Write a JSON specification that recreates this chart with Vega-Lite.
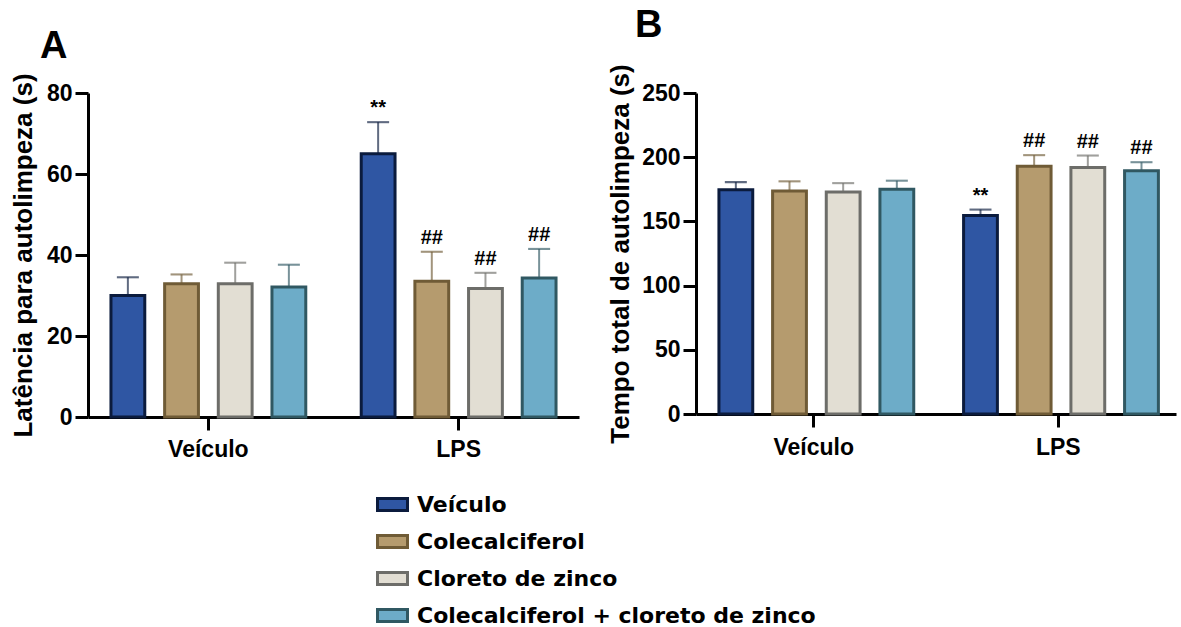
{
  "$schema": "https://vega.github.io/schema/vega-lite/v6.json",
  "background": "white",
  "padding": {"left": 10, "top": 6, "right": 5, "bottom": 5},
  "config": {
    "view": {"stroke": null},
    "axis": {
      "labelFont": "Liberation Sans", "labelFontWeight": "bold", "labelFontSize": 23, "labelColor": "black",
      "titleFont": "Liberation Sans", "titleFontWeight": "bold", "titleFontSize": 26, "titleColor": "black",
      "domainColor": "black", "domainWidth": 3, "tickColor": "black", "tickWidth": 3, "tickSize": 13,
      "grid": false, "labelPadding": 3
    },
    "legend": {
      "title": null, "orient": "none", "legendX": 288, "legendY": 395, "direction": "vertical", "padding": 0,
      "symbolType": "M-1,-0.4H1V0.4H-1Z", "symbolSize": 900, "symbolStrokeWidth": 3, "symbolOpacity": 1,
      "labelFont": "DejaVu Sans", "labelFontSize": 22, "labelFontWeight": "bold", "labelColor": "black", "labelOffset": 8, "rowPadding": 8, "labelLimit": 600
    },
    "text": {"font": "Liberation Sans"}
  },
  "datasets": {
    "A": [
      {"group": "Veículo", "treat": "Veículo", "mean": 30.0, "upper": 34.5, "sig": ""},
      {"group": "Veículo", "treat": "Colecalciferol", "mean": 32.9, "upper": 35.2, "sig": ""},
      {"group": "Veículo", "treat": "Cloreto de zinco", "mean": 32.9, "upper": 38.1, "sig": ""},
      {"group": "Veículo", "treat": "Colecalciferol + cloreto de zinco", "mean": 32.1, "upper": 37.6, "sig": ""},
      {"group": "LPS", "treat": "Veículo", "mean": 65.0, "upper": 72.8, "sig": "**"},
      {"group": "LPS", "treat": "Colecalciferol", "mean": 33.5, "upper": 40.8, "sig": "##"},
      {"group": "LPS", "treat": "Cloreto de zinco", "mean": 31.7, "upper": 35.6, "sig": "##"},
      {"group": "LPS", "treat": "Colecalciferol + cloreto de zinco", "mean": 34.3, "upper": 41.5, "sig": "##"}
    ],
    "B": [
      {"group": "Veículo", "treat": "Veículo", "mean": 174.6, "upper": 180.6, "sig": ""},
      {"group": "Veículo", "treat": "Colecalciferol", "mean": 173.6, "upper": 181.2, "sig": ""},
      {"group": "Veículo", "treat": "Cloreto de zinco", "mean": 172.8, "upper": 179.8, "sig": ""},
      {"group": "Veículo", "treat": "Colecalciferol + cloreto de zinco", "mean": 175.1, "upper": 181.7, "sig": ""},
      {"group": "LPS", "treat": "Veículo", "mean": 154.5, "upper": 159.2, "sig": "**"},
      {"group": "LPS", "treat": "Colecalciferol", "mean": 192.9, "upper": 201.6, "sig": "##"},
      {"group": "LPS", "treat": "Cloreto de zinco", "mean": 191.9, "upper": 201.3, "sig": "##"},
      {"group": "LPS", "treat": "Colecalciferol + cloreto de zinco", "mean": 189.5, "upper": 196.1, "sig": "##"}
    ]
  },
  "resolve": {"scale": {"fill": "shared", "stroke": "shared"}},
  "spacing": 28,
  "hconcat": [
    {
      "width": 491, "height": 324,
      "data": {"name": "A"},
      "title": {"text": "A", "anchor": "start", "frame": "group", "font": "Liberation Sans", "fontSize": 38, "fontWeight": "bold", "color": "black", "dx": -48, "offset": -23, "baseline": "alphabetic"},
      "encoding": {
        "x": {"field": "group", "type": "nominal", "sort": ["Veículo", "LPS"], "scale": {"paddingInner": 0.05, "paddingOuter": 0.006}, "axis": {"title": null, "labelAngle": 0, "labelPadding": 8}},
        "xOffset": {"field": "treat", "type": "nominal", "sort": ["Veículo", "Colecalciferol", "Cloreto de zinco", "Colecalciferol + cloreto de zinco"], "scale": {"paddingInner": 0.37, "paddingOuter": 0.4}}
      },
      "layer": [
        {
          "mark": {"type": "rule", "strokeWidth": 2, "opacity": 0.65},
          "encoding": {
            "y": {"field": "mean", "type": "quantitative", "scale": {"domain": [0, 80], "nice": false}, "axis": {"title": "Latência para autolimpeza (s)", "values": [0, 20, 40, 60, 80], "titlePadding": 10}},
            "y2": {"field": "upper"},
            "stroke": {"field": "treat", "type": "nominal"}
          }
        },
        {
          "mark": {"type": "tick", "filled": false, "thickness": 0.1, "size": 20, "strokeWidth": 2, "opacity": 0.65},
          "encoding": {
            "y": {"field": "upper", "type": "quantitative", "axis": {"title": "Latência para autolimpeza (s)", "values": [0, 20, 40, 60, 80], "titlePadding": 10}},
            "stroke": {"field": "treat", "type": "nominal"}
          }
        },
        {
          "mark": {"type": "bar", "strokeWidth": 3},
          "encoding": {
            "y": {"field": "mean", "type": "quantitative", "axis": {"title": "Latência para autolimpeza (s)", "values": [0, 20, 40, 60, 80], "titlePadding": 10}},
            "fill": {"field": "treat", "type": "nominal",
              "scale": {"domain": ["Veículo", "Colecalciferol", "Cloreto de zinco", "Colecalciferol + cloreto de zinco"], "range": ["#2F56A3", "#B59B6E", "#E2DED3", "#6DACC8"]}},
            "stroke": {"field": "treat", "type": "nominal",
              "scale": {"domain": ["Veículo", "Colecalciferol", "Cloreto de zinco", "Colecalciferol + cloreto de zinco"], "range": ["#0B1B3D", "#6F5B36", "#6D6D69", "#305862"]}}
          }
        },
        {
          "mark": {"type": "text", "baseline": "alphabetic", "dy": -8, "fontSize": 20, "fontWeight": "bold", "color": "black"},
          "encoding": {
            "y": {"field": "upper", "type": "quantitative", "axis": {"title": "Latência para autolimpeza (s)", "values": [0, 20, 40, 60, 80], "titlePadding": 10}},
            "text": {"field": "sig"}
          }
        }
      ]
    },
    {
      "width": 480, "height": 321,
      "data": {"name": "B"},
      "title": {"text": "B", "anchor": "start", "frame": "group", "font": "Liberation Sans", "fontSize": 38, "fontWeight": "bold", "color": "black", "dx": -61, "offset": -11, "baseline": "alphabetic"},
      "encoding": {
        "x": {"field": "group", "type": "nominal", "sort": ["Veículo", "LPS"], "scale": {"paddingInner": 0.05, "paddingOuter": 0.006}, "axis": {"title": null, "labelAngle": 0, "labelPadding": 9}},
        "xOffset": {"field": "treat", "type": "nominal", "sort": ["Veículo", "Colecalciferol", "Cloreto de zinco", "Colecalciferol + cloreto de zinco"], "scale": {"paddingInner": 0.37, "paddingOuter": 0.4}}
      },
      "layer": [
        {
          "mark": {"type": "rule", "strokeWidth": 2, "opacity": 0.65},
          "encoding": {
            "y": {"field": "mean", "type": "quantitative", "scale": {"domain": [0, 250], "nice": false}, "axis": {"title": "Tempo total de autolimpeza (s)", "values": [0, 50, 100, 150, 200, 250], "titlePadding": 8}},
            "y2": {"field": "upper"},
            "stroke": {"field": "treat", "type": "nominal"}
          }
        },
        {
          "mark": {"type": "tick", "filled": false, "thickness": 0.1, "size": 20, "strokeWidth": 2, "opacity": 0.65},
          "encoding": {
            "y": {"field": "upper", "type": "quantitative", "axis": {"title": "Tempo total de autolimpeza (s)", "values": [0, 50, 100, 150, 200, 250], "titlePadding": 8}},
            "stroke": {"field": "treat", "type": "nominal"}
          }
        },
        {
          "mark": {"type": "bar", "strokeWidth": 3},
          "encoding": {
            "y": {"field": "mean", "type": "quantitative", "axis": {"title": "Tempo total de autolimpeza (s)", "values": [0, 50, 100, 150, 200, 250], "titlePadding": 8}},
            "fill": {"field": "treat", "type": "nominal"},
            "stroke": {"field": "treat", "type": "nominal"}
          }
        },
        {
          "mark": {"type": "text", "baseline": "alphabetic", "dy": -8, "fontSize": 20, "fontWeight": "bold", "color": "black"},
          "encoding": {
            "y": {"field": "upper", "type": "quantitative", "axis": {"title": "Tempo total de autolimpeza (s)", "values": [0, 50, 100, 150, 200, 250], "titlePadding": 8}},
            "text": {"field": "sig"}
          }
        }
      ]
    }
  ]
}
